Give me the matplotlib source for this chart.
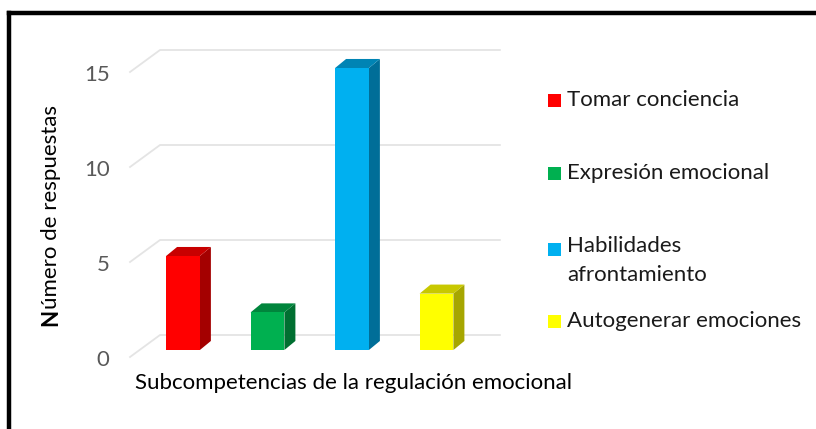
import numpy as np
import matplotlib
matplotlib.use("Agg")
from matplotlib import pyplot as plt
from matplotlib.patches import Polygon, Rectangle
from matplotlib.lines import Line2D

plt.rcParams['font.family'] = ['Lato', 'DejaVu Sans']

# data
categorias = ["Tomar conciencia", "Expresión emocional",
              "Habilidades\nafrontamiento", "Autogenerar emociones"]
respuestas = [5, 2, 15, 3]
colores = ["#FF0000", "#00B050", "#00B0F0", "#FFFF00"]
lados = ["#A40000", "#006F31", "#006E98", "#A6A600"]
techos = ["#C80000", "#00853C", "#0084B4", "#C8C800"]
ticks_y = [0, 5, 10, 15]
titulo_x = "Subcompetencias de la regulación emocional"
titulo_y = "Número de respuestas"

W, H = 816, 429
fig = plt.figure(figsize=(W / 100, H / 100), dpi=100)

# axes area in pixels
ax = fig.add_axes([120 / W, 1 - 365 / H, 400 / W, 325 / H])
ax.set_xlim(-0.7456, 3.988)
ax.set_ylim(-0.798, 16.489)
ax.axis("off")

# 3d-ish offsets (data units)
ancho = 0.4
dx, dy = 0.13, 0.48
esc = 1.0106

# gridlines (back wall + left floor diagonal)
for v in ticks_y:
    yb = 0.798 + esc * v
    yf = -0.372 + esc * v
    ax.add_line(Line2D([-0.627, -0.272, 3.75], [yf, yb, yb],
                       color="#E4E4E4", lw=1.3, zorder=1))
    ax.text(-0.87, yf - 0.15, str(v), ha="right", va="center",
            fontsize=16, color="#595959")

# bars
for i, v in enumerate(respuestas):
    x0, x1 = i - ancho / 2, i + ancho / 2
    ax.add_patch(Polygon([(x1, 0), (x1 + dx, dy), (x1 + dx, v + dy), (x1, v)],
                         closed=True, facecolor=lados[i], edgecolor="none", zorder=3))
    ax.add_patch(Polygon([(x0, v), (x1, v), (x1 + dx, v + dy), (x0 + dx, v + dy)],
                         closed=True, facecolor=techos[i], edgecolor="none", zorder=3))
    ax.add_patch(Rectangle((x0, 0), ancho, v, facecolor=colores[i],
                           edgecolor="none", zorder=4))

# x label
fig.text(135 / W, 1 - 383 / H, titulo_x, ha="left", va="center",
         fontsize=16, color="#000000")

# y label with bold first letter
tn = fig.text(51 / W, 1 - 326 / H, titulo_y[0], rotation=90, ha="center",
              va="bottom", fontsize=16, fontweight="bold")
fig.canvas.draw()
bb = tn.get_window_extent()
fig.text(51 / W, bb.y1 / H, titulo_y[1:], rotation=90, ha="center",
         va="bottom", fontsize=16)

# legend
leg_y = [100, 173, 249, 321]
for lab, c, yy in zip(categorias, colores, leg_y):
    fig.patches.append(Rectangle((548 / W, 1 - (yy + 6.5) / H), 13 / W, 13 / H,
                                 facecolor=c, edgecolor="none",
                                 transform=fig.transFigure, figure=fig))
    if "\n" in lab:
        fig.text(567 / W, 1 - (yy - 13) / H, lab, ha="left", va="top",
                 fontsize=16, color="#1A1A1A", linespacing=1.55)
    else:
        fig.text(567 / W, 1 - yy / H, lab, ha="left", va="center",
                 fontsize=16, color="#1A1A1A")

# border (top and left)
fig.add_artist(Line2D([9 / W, 1.0], [1 - 13 / H, 1 - 13 / H], color="black",
                      lw=3.2, transform=fig.transFigure, solid_capstyle="projecting"))
fig.add_artist(Line2D([9 / W, 9 / W], [1 - 13 / H, 0], color="black",
                      lw=3.2, transform=fig.transFigure, solid_capstyle="projecting"))

fig.savefig("out.png", dpi=100)
